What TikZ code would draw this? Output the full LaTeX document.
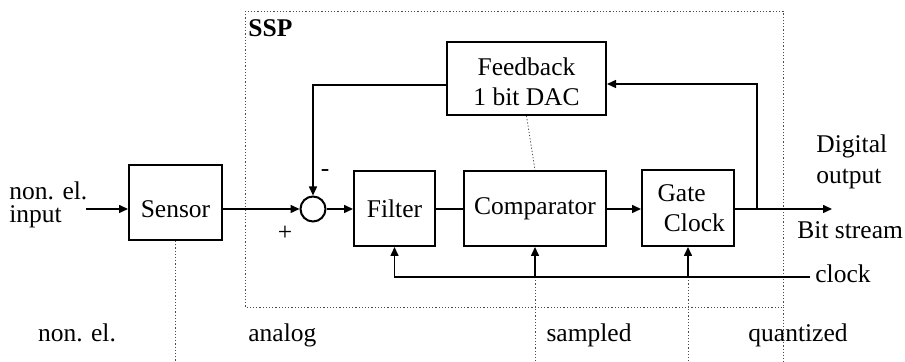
\documentclass[tikz,border=0pt]{standalone}
\usepackage{fontspec}
\setmainfont{Liberation Serif}
\usetikzlibrary{arrows.meta}
\begin{document}
\begin{tikzpicture}[x=0.5pt,y=-0.5pt,
  font=\fontsize{12.75}{15}\selectfont,
  block/.style={draw,line width=1pt,rectangle,inner sep=0pt,align=center},
  conn/.style={line width=0.75pt,-{Triangle[length=4.5pt,width=4pt]}},
  wire/.style={line width=0.75pt},
  sep/.style={line width=0.4pt,dash pattern=on 0.6pt off 1pt,black!70},
  txt/.style={inner sep=0pt}]
\useasboundingbox (0,0) rectangle (905,362);

% SSP region and domain separators
\draw[sep] (245,11) rectangle (783,307);
\node[txt,anchor=base west,font=\fontsize{12.75}{15}\selectfont\bfseries] (ssp) at (248,37) {SSP};

% blocks
\node[block,minimum width=46.5pt,minimum height=37.5pt,
      label={[name=sensortxt,yshift=-3.3pt]center:Sensor}] (sensor) at (175.5,202.5) {};
\node[draw,circle,line width=1pt,minimum size=12.5pt,inner sep=0pt] (sum) at (313,209) {};
\node[block,minimum width=40.5pt,minimum height=37.5pt] (filter) at (394.5,208.5) {Filter};
\node[block,minimum width=71pt,minimum height=37.5pt] (comp) at (535,208.5) {Comparator};
\node[block,minimum width=46pt,minimum height=38pt] (gate) at (688,208)
  {\hspace*{-0.5em}Gate\\\hspace*{0.5em}Clock};
\node[block,minimum width=79.5pt,minimum height=36.5pt,
      label={[name=fbtxt,align=center,yshift=-1.6pt]center:Feedback\\1 bit DAC}] (fb) at (526.5,78.5) {};

% auxiliary points
\coordinate (in) at (86,209);
\coordinate (out) at (832,209);
\coordinate (junc) at (757,209);
\coordinate (fbin) at (757,84);
\coordinate (fbout) at (313,85);
\coordinate (clk) at (810,277);

% separators running down to the domain labels
\draw[sep] (sensor.south) -- (sensor.south |- 0,362);
\draw[sep] (fb.south) -- (comp.north);
\draw[sep] (comp.south |- clk) -- (comp.south |- 0,362);
\draw[sep] (gate.south |- clk) -- (gate.south |- 0,362);
\draw[sep] (783,307) -- (783,362);

% signal path
\draw[conn] (in) -- (sensor.west |- in);
\draw[conn] (sensor.east |- sum) -- (sum.west);
\draw[conn] (sum.east) -- (filter.west |- sum);
\draw[wire] (filter.east |- sum) -- (comp.west |- sum);
\draw[conn] (comp.east |- sum) -- (gate.west |- sum);
\draw[conn] (gate.east |- sum) -- (out);

% feedback loop
\draw[conn] (junc) -- (fbin) -- (fb.east |- fbin);
\draw[conn] (fb.west |- fbout) -- (fbout) -- (sum.north);

% clock distribution
\draw[conn] (clk) -| (filter.south);
\draw[conn] (comp.south |- clk) -- (comp.south);
\draw[conn] (gate.south |- clk) -- (gate.south);

% signs at the summing point
\node[txt] (minus) at (325,173) {-};
\node[txt] (plus) at (285,233) {+};

% terminal labels
\node[txt,anchor=base west] (inlbla) at (9,200) {non. el.};
\node[txt,anchor=base west] (inlblb) at (9,223) {input};
\node[txt,anchor=base west] (outlbla) at (816,153) {Digital};
\node[txt,anchor=base west] (outlblb) at (816,184) {output};
\node[txt,anchor=base west] (bits) at (797,239) {Bit stream};
\node[txt,anchor=base west] (clklbl) at (815,283) {clock};

% domain labels
\node[txt,anchor=base] (d1) at (77,342) {non. el.};
\node[txt,anchor=base west] (d2) at (248,342) {analog};
\node[txt,anchor=base] (d3) at (589,342) {sampled};
\node[txt,anchor=base] (d4) at (798,342) {quantized};
\end{tikzpicture}
\end{document}
